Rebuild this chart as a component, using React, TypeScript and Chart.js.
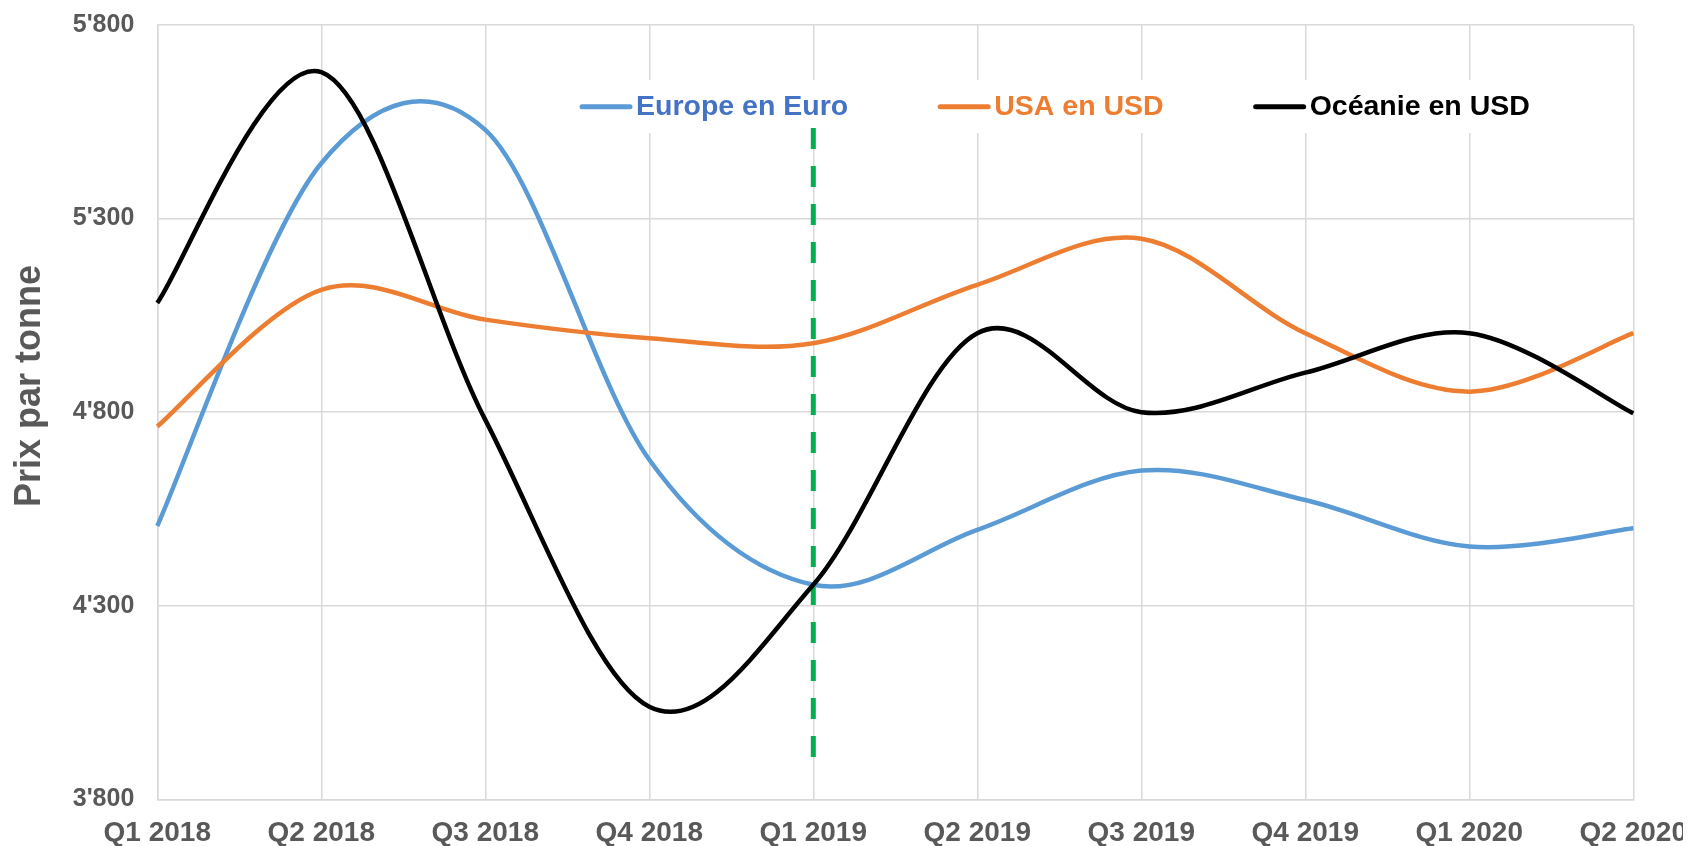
import React, { useEffect, useRef } from 'react';
import { Chart, registerables } from 'chart.js';

Chart.register(...registerables);

const FONT = "'Liberation Sans', Arial, sans-serif";

const categories = ['Q1 2018', 'Q2 2018', 'Q3 2018', 'Q4 2018', 'Q1 2019', 'Q2 2019', 'Q3 2019', 'Q4 2019', 'Q1 2020', 'Q2 2020'];
const europeEuro = [4506, 5443, 5529, 4677, 4354, 4496, 4649, 4573, 4453, 4500];
const usaUsd = [4763, 5116, 5039, 4991, 4978, 5129, 5248, 5004, 4853, 5004];
const oceanieUsd = [5082, 5678, 4780, 4039, 4354, 5004, 4800, 4902, 5004, 4797];
const markerCategory = 'Q1 2019';
const markerRange = [5534, 3903];
const yTicks = [3800, 4300, 4800, 5300, 5800];
const seriesNames = ['Europe en Euro', 'USA en USD', 'Océanie en USD'];
const seriesColors = ['#5B9BD5', '#ED7D31', '#000000'];
const legendTextColors = ['#4472C4', '#ED7D31', '#000000'];
const axisTitle = 'Prix par tonne';

const CANVAS_W = 1683;
const CANVAS_H = 838;

const fmt = (v: number) => String(v).replace(/\B(?=(\d{3})+(?!\d))/g, "'");

// Excel-like smoothing: uniform Catmull-Rom control points
const catmullRomPlugin = {
  id: 'catmullRom',
  beforeDatasetDraw(chart: any, args: any) {
    const meta = args.meta;
    const line = meta.dataset;
    if (!line || !line.options || !line.options.tension) return;
    line.updateControlPoints(chart.chartArea, meta.indexAxis);
    const pts = meta.data;
    const n = pts.length;
    for (let i = 0; i < n; i++) {
      const p = pts[i];
      const a = pts[Math.max(0, i - 1)];
      const b = pts[Math.min(n - 1, i + 1)];
      const dx = (b.x - a.x) / 6;
      const dy = (b.y - a.y) / 6;
      p.cp1x = p.x - dx;
      p.cp1y = p.y - dy;
      p.cp2x = p.x + dx;
      p.cp2y = p.y + dy;
    }
  },
};

const overlayPlugin = {
  id: 'overlay',
  beforeDatasetsDraw(chart: any) {
    const ctx = chart.ctx;
    ctx.save();
    // legend background (hides grid lines behind the legend)
    ctx.fillStyle = '#ffffff';
    ctx.fillRect(552, 72, 995, 53);
    ctx.font = `bold 28.5px ${FONT}`;
    ctx.textBaseline = 'alphabetic';
    ctx.textAlign = 'left';
    let x = 574;
    seriesNames.forEach((name, i) => {
      ctx.strokeStyle = seriesColors[i];
      ctx.lineWidth = 5;
      ctx.lineCap = 'round';
      ctx.beginPath();
      ctx.moveTo(x, 98.7);
      ctx.lineTo(x + 48, 98.7);
      ctx.stroke();
      ctx.fillStyle = legendTextColors[i];
      ctx.fillText(name, x + 54, 107);
      x += 54 + ctx.measureText(name).width + 92;
    });
    // y axis title
    ctx.translate(22, 378);
    ctx.rotate(-Math.PI / 2);
    ctx.font = `bold 36px ${FONT}`;
    ctx.fillStyle = '#595959';
    ctx.textAlign = 'center';
    ctx.textBaseline = 'middle';
    ctx.fillText(axisTitle, 0, 0);
    ctx.restore();
  },
};

export default function App() {
  const ref = useRef<HTMLCanvasElement>(null);
  useEffect(() => {
    document.documentElement.style.overflow = 'hidden';
    document.body.style.overflow = 'hidden';
    const series = [europeEuro, usaUsd, oceanieUsd];
    const chart = new Chart(ref.current as HTMLCanvasElement, {
      type: 'line',
      data: {
        labels: categories,
        datasets: [
          ...series.map((d, i) => ({
            label: seriesNames[i],
            data: d,
            borderColor: seriesColors[i],
            backgroundColor: seriesColors[i],
            borderWidth: 4.5,
            tension: 0.4,
            pointRadius: 0,
            fill: false,
            order: 3 - i,
          })),
          {
            label: 'marker',
            data: markerRange.map((y) => ({ x: markerCategory, y })) as any,
            borderColor: '#00B050',
            backgroundColor: '#00B050',
            borderWidth: 5,
            borderDash: [21, 17],
            tension: 0,
            pointRadius: 0,
            fill: false,
            order: 4,
          },
        ],
      },
      options: {
        responsive: false,
        animation: false,
        layout: { padding: 0 },
        plugins: { legend: { display: false }, tooltip: { enabled: false } },
        scales: {
          x: {
            type: 'category',
            grid: { color: '#d9d9d9', lineWidth: 1.5, drawTicks: false },
            border: { color: '#d9d9d9', width: 1.5 },
            ticks: {
              color: '#595959',
              font: { family: FONT, size: 28, weight: 'bold' },
              padding: 17,
              autoSkip: false,
              maxRotation: 0,
            },
            afterFit: (s: any) => {
              s.height = 46.7;
              s.paddingLeft = 0;
              s.paddingRight = CANVAS_W - 1625.3;
            },
          },
          y: {
            min: yTicks[0],
            max: yTicks[yTicks.length - 1],
            grid: { color: '#d9d9d9', lineWidth: 1.5, drawTicks: false },
            border: { color: '#d9d9d9', width: 1.5 },
            afterBuildTicks: (s: any) => {
              s.ticks = yTicks.map((v) => ({ value: v }));
            },
            ticks: {
              color: '#595959',
              font: { family: FONT, size: 25, weight: 'bold' },
              padding: 23,
              callback: (v: any) => fmt(Number(v)),
            },
            afterFit: (s: any) => {
              s.width = 149.3;
              s.paddingTop = 17;
              s.paddingBottom = 0;
            },
          },
        },
      },
      plugins: [catmullRomPlugin, overlayPlugin],
    });
    return () => chart.destroy();
  }, []);
  return <canvas ref={ref} width={CANVAS_W} height={CANVAS_H} style={{ display: 'block', width: CANVAS_W, height: CANVAS_H }} />;
}
